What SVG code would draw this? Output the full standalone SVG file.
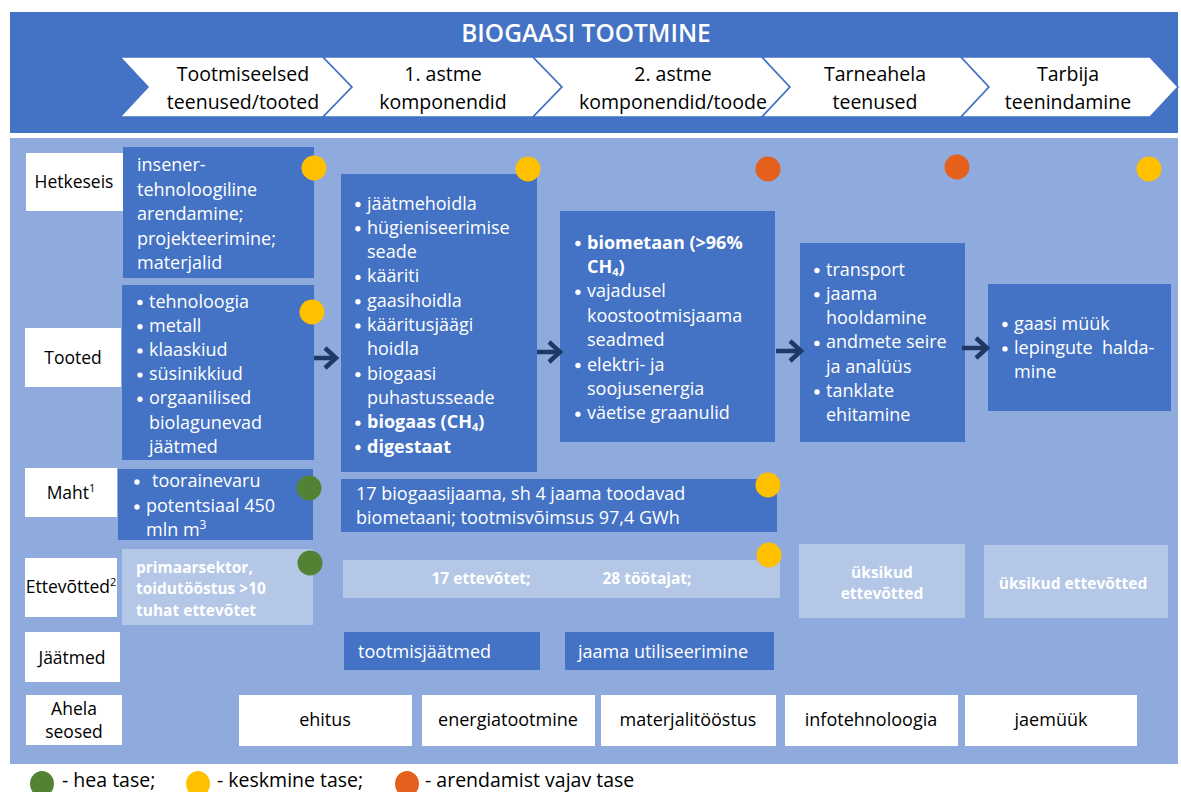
<svg xmlns="http://www.w3.org/2000/svg" width="1181" height="792" viewBox="0 0 1181 792">
<defs>
<style>
text{font-family:'Open Sans','Noto Sans','Liberation Sans',sans-serif}
.dk{fill:#4472C4}
.lt{fill:#B4C7E7}
.wb{fill:#FFFFFF}
.chev{fill:#FFFFFF;stroke:#4472C4;stroke-width:1.6}
.ct{font-size:19.5px;fill:#000;text-anchor:middle}
.t{font-size:18px;fill:#FFFFFF}
.tb{font-size:18px;fill:#FFFFFF;font-weight:bold}
.lb{font-size:15.5px;fill:#FFFFFF;font-weight:bold}
.lab{font-size:17.5px;fill:#000;text-anchor:middle}
.wt{font-size:18px;fill:#000;text-anchor:middle}
.bu{fill:#FFFFFF}
.y{fill:#FFC000}
.o{fill:#E5601C}
.g{fill:#548235}
.arr{fill:none;stroke:#203864;stroke-width:4.5}
.leg{font-size:19.5px;fill:#000}
</style>
<marker id="ah" markerUnits="userSpaceOnUse" viewBox="0 0 16 24" refX="13" refY="12" markerWidth="16" markerHeight="24" orient="auto" overflow="visible">
<path d="M2,2 L13,12 L2,22" fill="none" stroke="#203864" stroke-width="4.5"/>
</marker>
</defs>

<g id="header">
<rect x="10" y="12" width="1168" height="121" class="dk"/>
<text x="586" y="42" font-size="24.5" font-weight="600" fill="#FFFFFF" text-anchor="middle">BIOGAASI TOOTMINE</text>
</g>

<g id="stages">
<g id="stage1"><polygon class="chev" points="120,57 323,57 352,87 323,117 120,117 148,87"/>
<text class="ct" x="243" y="81">Tootmiseelsed</text><text class="ct" x="243" y="109">teenused/tooted</text></g>
<g id="stage2"><polygon class="chev" points="323,57 533,57 562,87 533,117 323,117 352,87"/>
<text class="ct" x="443" y="81">1. astme</text><text class="ct" x="443" y="109">komponendid</text></g>
<g id="stage3"><polygon class="chev" points="533,57 762,57 790,87 762,117 533,117 562,87"/>
<text class="ct" x="673" y="81">2. astme</text><text class="ct" x="673" y="109">komponendid/toode</text></g>
<g id="stage4"><polygon class="chev" points="762,57 961,57 989,87 961,117 762,117 790,87"/>
<text class="ct" x="875" y="81">Tarneahela</text><text class="ct" x="875" y="109">teenused</text></g>
<g id="stage5"><polygon class="chev" points="961,57 1150,57 1178,87 1150,117 961,117 989,87"/>
<text class="ct" x="1068" y="81">Tarbija</text><text class="ct" x="1068" y="109">teenindamine</text></g>
</g>

<rect id="panel" x="10" y="138" width="1168" height="626" fill="#8FAADC"/>

<g id="row-labels">
<g id="lab-hetkeseis"><rect class="wb" x="26" y="153" width="97" height="58"/><text class="lab" x="74" y="188">Hetkeseis</text></g>
<g id="lab-tooted"><rect class="wb" x="25" y="328" width="96" height="59"/><text class="lab" x="73" y="364" font-size="18">Tooted</text></g>
<g id="lab-maht"><rect class="wb" x="25" y="468" width="92" height="49"/><text class="lab" x="71" y="499" font-size="16.5">Maht<tspan font-size="11" dy="-7">1</tspan></text></g>
<g id="lab-ettevotted"><rect class="wb" x="25" y="558" width="92" height="59"/><text class="lab" x="71" y="593" font-size="16">Ettevõtted<tspan font-size="11" dy="-7">2</tspan></text></g>
<g id="lab-jaatmed"><rect class="wb" x="25" y="632" width="95" height="50"/><text class="lab" x="72" y="664">Jäätmed</text></g>
<g id="lab-ahela"><rect class="wb" x="26" y="695" width="96" height="50"/><text class="lab" x="74" y="715">Ahela</text><text class="lab" x="74" y="738">seosed</text></g>
</g>

<g id="box-hetkeseis">
<rect class="dk" x="123" y="147" width="191" height="131"/>
<text class="t" x="137" y="171">insener-</text>
<text class="t" x="137" y="195.5">tehnoloogiline</text>
<text class="t" x="137" y="220">arendamine;</text>
<text class="t" x="137" y="244.5">projekteerimine;</text>
<text class="t" x="137" y="269">materjalid</text>
</g>

<g id="box-tooted">
<rect class="dk" x="122" y="285" width="192" height="175"/>
<circle class="bu" cx="140" cy="302.5" r="2.7"/><text class="t" x="149" y="307.5">tehnoloogia</text>
<circle class="bu" cx="140" cy="326.7" r="2.7"/><text class="t" x="149" y="331.7">metall</text>
<circle class="bu" cx="140" cy="350.9" r="2.7"/><text class="t" x="149" y="355.9">klaaskiud</text>
<circle class="bu" cx="140" cy="375.1" r="2.7"/><text class="t" x="149" y="380.1">süsinikkiud</text>
<circle class="bu" cx="140" cy="399.3" r="2.7"/><text class="t" x="149" y="404.3">orgaanilised</text>
<text class="t" x="149" y="428.5">biolagunevad</text>
<text class="t" x="149" y="452.7">jäätmed</text>
</g>

<g id="box-aste1">
<rect class="dk" x="341" y="174" width="196" height="298"/>
<circle class="bu" cx="358" cy="204.5" r="2.7"/><text class="t" x="367" y="209.5">jäätmehoidla</text>
<circle class="bu" cx="358" cy="228.8" r="2.7"/><text class="t" x="367" y="233.8">hügieniseerimise</text>
<text class="t" x="367" y="258.1">seade</text>
<circle class="bu" cx="358" cy="277.4" r="2.7"/><text class="t" x="367" y="282.4">kääriti</text>
<circle class="bu" cx="358" cy="301.7" r="2.7"/><text class="t" x="367" y="306.7">gaasihoidla</text>
<circle class="bu" cx="358" cy="326" r="2.7"/><text class="t" x="367" y="331">kääritusjäägi</text>
<text class="t" x="367" y="355.3">hoidla</text>
<circle class="bu" cx="358" cy="374.6" r="2.7"/><text class="t" x="367" y="379.6">biogaasi</text>
<text class="t" x="367" y="403.9">puhastusseade</text>
<circle class="bu" cx="358" cy="423.2" r="2.7"/><text class="tb" x="367" y="428.2">biogaas (CH<tspan font-size="11" dy="3">4</tspan><tspan dy="-3">)</tspan></text>
<circle class="bu" cx="358" cy="447.5" r="2.7"/><text class="tb" x="367" y="452.5">digestaat</text>
</g>

<g id="box-aste2">
<rect class="dk" x="560" y="211" width="215" height="231"/>
<circle class="bu" cx="578" cy="243.5" r="2.7"/><text class="tb" x="587" y="248.5">biometaan (&gt;96%</text>
<text class="tb" x="587" y="272.9">CH<tspan font-size="11" dy="3">4</tspan><tspan dy="-3">)</tspan></text>
<circle class="bu" cx="578" cy="292.3" r="2.7"/><text class="t" x="587" y="297.3">vajadusel</text>
<text class="t" x="587" y="321.7">koostootmisjaama</text>
<text class="t" x="587" y="346.1">seadmed</text>
<circle class="bu" cx="578" cy="365.5" r="2.7"/><text class="t" x="587" y="370.5">elektri- ja</text>
<text class="t" x="587" y="394.9">soojusenergia</text>
<circle class="bu" cx="578" cy="414.3" r="2.7"/><text class="t" x="587" y="419.3">väetise graanulid</text>
</g>

<g id="box-tarneahel">
<rect class="dk" x="800" y="243" width="165" height="199"/>
<circle class="bu" cx="817" cy="270.5" r="2.7"/><text class="t" x="826" y="275.5">transport</text>
<circle class="bu" cx="817" cy="294.8" r="2.7"/><text class="t" x="826" y="299.8">jaama</text>
<text class="t" x="826" y="324.1">hooldamine</text>
<circle class="bu" cx="817" cy="343.4" r="2.7"/><text class="t" x="826" y="348.4">andmete seire</text>
<text class="t" x="826" y="372.7">ja analüüs</text>
<circle class="bu" cx="817" cy="392" r="2.7"/><text class="t" x="826" y="397">tanklate</text>
<text class="t" x="826" y="421.3">ehitamine</text>
</g>

<g id="box-tarbija">
<rect class="dk" x="988" y="284" width="183" height="127"/>
<circle class="bu" cx="1005" cy="324.5" r="2.7"/><text class="t" x="1014" y="329.5">gaasi müük</text>
<circle class="bu" cx="1005" cy="348.9" r="2.7"/><text class="t" x="1014" y="353.9" xml:space="preserve">lepingute  halda-</text>
<text class="t" x="1014" y="378.3">mine</text>
</g>

<g id="box-maht1">
<rect class="dk" x="118" y="469" width="195" height="71"/>
<circle class="bu" cx="137" cy="482" r="2.7"/><text class="t" x="152" y="487">toorainevaru</text>
<circle class="bu" cx="137" cy="507" r="2.7"/><text class="t" x="146" y="512">potentsiaal 450</text>
<text class="t" x="146" y="536">mln m<tspan font-size="12" dy="-7">3</tspan></text>
</g>

<g id="box-maht2">
<rect class="dk" x="341" y="479" width="436" height="53"/>
<text class="t" x="356" y="500">17 biogaasijaama, sh 4 jaama toodavad</text>
<text class="t" x="356" y="524">biometaani; tootmisvõimsus 97,4 GWh</text>
</g>

<g id="box-ett1">
<rect class="lt" x="122" y="549" width="191" height="76"/>
<text class="lb" x="136" y="572.5">primaarsektor,</text>
<text class="lb" x="136" y="594">toidutööstus &gt;10</text>
<text class="lb" x="136" y="615.5">tuhat ettevõtet</text>
</g>

<g id="box-ett2">
<rect class="lt" x="343" y="560" width="437" height="38"/>
<text class="lb" x="481" y="584" text-anchor="middle">17 ettevõtet;</text>
<text class="lb" x="647" y="584" text-anchor="middle">28 töötajat;</text>
</g>

<g id="box-ett3">
<rect class="lt" x="799" y="544" width="166" height="74"/>
<text class="lb" x="882" y="577.5" text-anchor="middle">üksikud</text>
<text class="lb" x="882" y="598.5" text-anchor="middle">ettevõtted</text>
</g>

<g id="box-ett4">
<rect class="lt" x="984" y="545" width="184" height="73"/>
<text class="lb" x="1073" y="588.5" text-anchor="middle">üksikud ettevõtted</text>
</g>

<g id="box-jaat1"><rect class="dk" x="344" y="632" width="196" height="38"/><text class="t" x="358" y="658">tootmisjäätmed</text></g>
<g id="box-jaat2"><rect class="dk" x="565" y="632" width="209" height="38"/><text class="t" x="578" y="658">jaama utiliseerimine</text></g>

<g id="box-ehitus"><rect class="wb" x="239" y="695" width="173" height="51"/><text class="wt" x="325" y="726">ehitus</text></g>
<g id="box-energia"><rect class="wb" x="422" y="695" width="173" height="51"/><text class="wt" x="508" y="726">energiatootmine</text></g>
<g id="box-materjal"><rect class="wb" x="601" y="695" width="175" height="51"/><text class="wt" x="688" y="726">materjalitööstus</text></g>
<g id="box-info"><rect class="wb" x="785" y="695" width="173" height="51"/><text class="wt" x="871" y="726">infotehnoloogia</text></g>
<g id="box-jaemyyk"><rect class="wb" x="965" y="695" width="172" height="51"/><text class="wt" x="1051" y="726">jaemüük</text></g>

<g id="indicators">
<circle class="y" cx="314" cy="168" r="12.5"/>
<circle class="y" cx="312" cy="312" r="12.5"/>
<circle class="y" cx="528" cy="169" r="12.5"/>
<circle class="o" cx="768" cy="169" r="12.5"/>
<circle class="o" cx="957" cy="167" r="12.5"/>
<circle class="y" cx="1149" cy="169" r="12.5"/>
<circle class="g" cx="309" cy="488" r="12.5"/>
<circle class="y" cx="768" cy="485" r="12.5"/>
<circle class="g" cx="310" cy="563" r="12.5"/>
<circle class="y" cx="769" cy="555" r="12.5"/>
</g>

<g id="connectors">
<path class="arr" d="M314,358 H336" marker-end="url(#ah)"/>
<path class="arr" d="M537,352 H560" marker-end="url(#ah)"/>
<path class="arr" d="M776,351 H801" marker-end="url(#ah)"/>
<path class="arr" d="M962,348 H987" marker-end="url(#ah)"/>
</g>

<g id="legend">
<ellipse class="g" cx="42" cy="784" rx="12" ry="13"/>
<text class="leg" x="62" y="786.5">- hea tase;</text>
<ellipse class="y" cx="198" cy="784" rx="12" ry="13"/>
<text class="leg" x="217" y="786.5">- keskmine tase;</text>
<ellipse class="o" cx="407" cy="784" rx="12" ry="13"/>
<text class="leg" x="425" y="786.5">- arendamist vajav tase</text>
</g>
</svg>
